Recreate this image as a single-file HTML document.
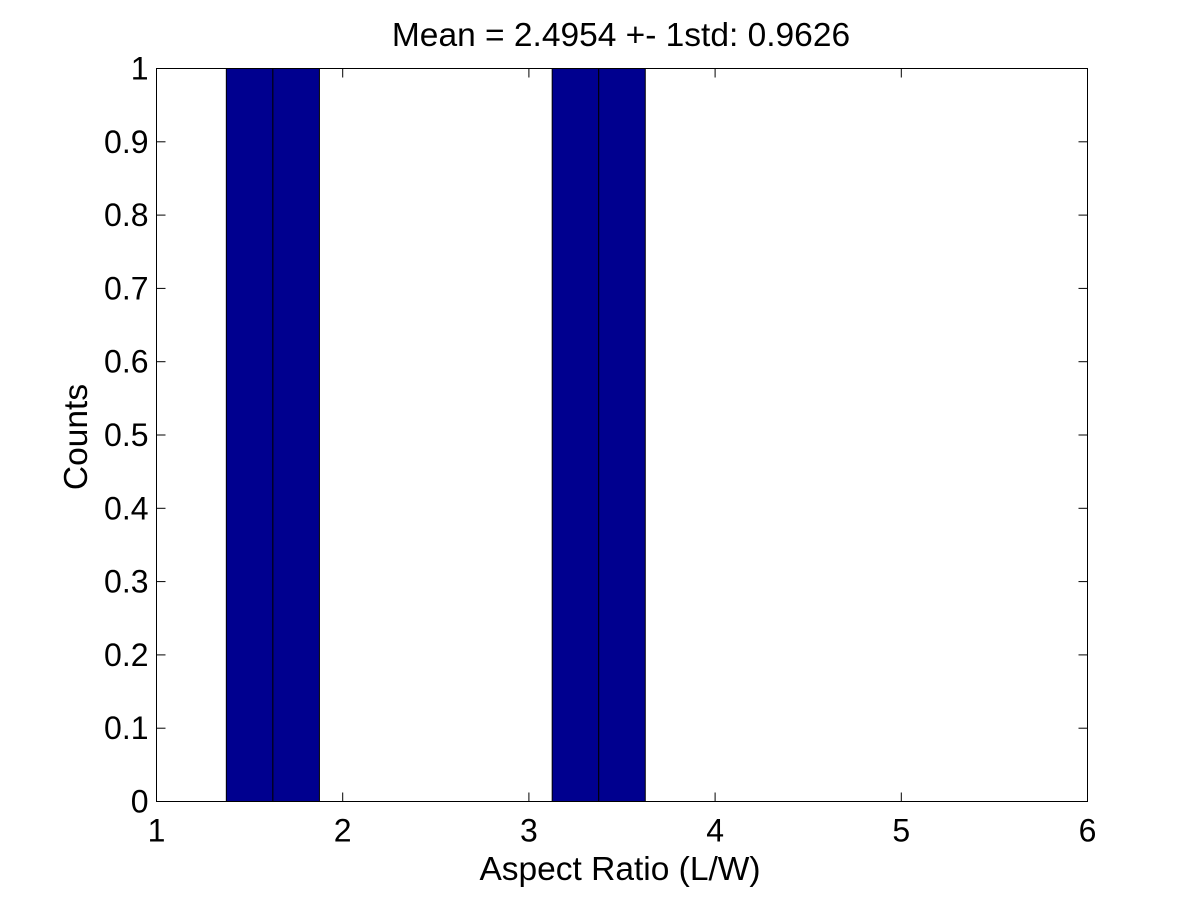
<!DOCTYPE html>
<html><head><meta charset="utf-8"><style>
body{margin:0;background:#fff;}
svg text{font-family:"Liberation Sans",Arial,sans-serif;fill:#000;}
</style></head><body>
<svg id="chart" width="1201" height="901" xmlns="http://www.w3.org/2000/svg">
<rect width="1201" height="901" fill="#fff"/>
<g id="bars"></g>
<g id="axes"></g>
</svg>
<script>
const binCenters = [1.5, 1.75, 3.25, 3.5];
const counts = [1, 1, 1, 1];
const binWidth = 0.25;
const xTicks = [1, 2, 3, 4, 5, 6];
const yTicks = [0, 0.1, 0.2, 0.3, 0.4, 0.5, 0.6, 0.7, 0.8, 0.9, 1];
const yTickLabels = ["0","0.1","0.2","0.3","0.4","0.5","0.6","0.7","0.8","0.9","1"];
const titleText = "Mean = 2.4954 +- 1std: 0.9626";

const L=156.5, R=1087.5, T=68.5, B=801.5;
const x = v => L + (v-1)/(6-1)*(R-L);
const y = v => B - v/1*(B-T);
const NS="http://www.w3.org/2000/svg";
const bars=document.getElementById('bars'), axes=document.getElementById('axes');
function mk(tag, attrs, parent){const e=document.createElementNS(NS,tag);for(const k in attrs)e.setAttribute(k,attrs[k]);parent.appendChild(e);return e;}

binCenters.forEach((c,i)=>{
  const r=mk('rect',{x:x(c-binWidth/2),y:y(counts[i]),width:x(c+binWidth/2)-x(c-binWidth/2),height:y(0)-y(counts[i]),fill:'#00008f',stroke:'#000','stroke-width':1},bars);
  
  
});

const frame=mk('rect',{x:L,y:T,width:R-L,height:B-T,fill:'none',stroke:'#000','stroke-width':1},axes);



xTicks.forEach(t=>{
  mk('line',{x1:x(t),x2:x(t),y1:B,y2:B-9,stroke:'#000'},axes);
  mk('line',{x1:x(t),x2:x(t),y1:T,y2:T+9,stroke:'#000'},axes);
  const tx=mk('text',{x:x(t),y:B+40,'text-anchor':'middle','font-size':32},axes);
  tx.textContent=t;
  
  
});
yTicks.forEach((t,i)=>{
  mk('line',{x1:L,x2:L+9,y1:y(t),y2:y(t),stroke:'#000'},axes);
  mk('line',{x1:R,x2:R-9,y1:y(t),y2:y(t),stroke:'#000'},axes);
  const tx=mk('text',{x:L-8,y:y(t)+11,'text-anchor':'end','font-size':32},axes);
  tx.textContent=yTickLabels[i];
  
  
});
const title=mk('text',{x:(L+R)/2-1,y:46,'text-anchor':'middle','font-size':33.5},axes);
title.textContent=titleText;


const xl=mk('text',{x:(L+R)/2-2,y:880,'text-anchor':'middle','font-size':33.5},axes);
xl.textContent="Aspect Ratio (L/W)";


const yl=mk('text',{x:0,y:0,'text-anchor':'middle','font-size':33.5,transform:'translate(87,437) rotate(-90)'},axes);
yl.textContent="Counts";


</script>
</body></html>
